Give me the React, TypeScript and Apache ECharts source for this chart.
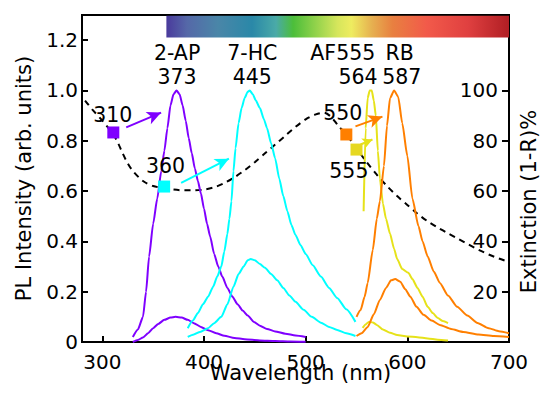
import React, { useEffect, useRef } from "react";
import * as echarts from "echarts";

// ---- data (wavelength nm, PL intensity arb. units) ----
const apTall: [number, number][] = [
  [330, 0.02], [335, 0.05], [340, 0.1], [343, 0.2], [346, 0.34], [350, 0.47], [354, 0.57], [358, 0.68],
  [361, 0.76], [364, 0.85], [367, 0.94], [370, 0.985], [373, 1.0], [376, 0.985], [379, 0.94], [382, 0.88],
  [385, 0.81], [388, 0.75], [391, 0.69], [394, 0.64], [397, 0.59], [400, 0.53], [403, 0.47], [406, 0.42],
  [410, 0.35], [414, 0.3], [418, 0.26], [423, 0.215], [428, 0.18], [433, 0.15], [438, 0.125], [443, 0.105],
  [449, 0.08], [455, 0.065], [462, 0.052], [470, 0.042], [480, 0.033], [490, 0.026], [500, 0.02],
];
const apSmall: [number, number][] = [
  [330, 0.0], [335, 0.008], [340, 0.018], [345, 0.035], [350, 0.055], [355, 0.072], [361, 0.088], [367, 0.097],
  [372, 0.1], [378, 0.097], [384, 0.088], [390, 0.075], [397, 0.06], [404, 0.047], [412, 0.035], [420, 0.025],
  [430, 0.016], [440, 0.011], [455, 0.006], [470, 0.004], [485, 0.002], [500, 0.001],
];
const hcTall: [number, number][] = [
  [384, 0.055], [389, 0.085], [394, 0.115], [399, 0.15], [404, 0.18], [409, 0.22], [413, 0.26], [417, 0.3],
  [420, 0.36], [423, 0.43], [425, 0.49], [427, 0.56], [429, 0.68], [431, 0.77], [434, 0.87], [437, 0.93],
  [440, 0.97], [443, 0.995], [445, 1.0], [448, 0.985], [451, 0.96], [455, 0.93], [459, 0.885], [462, 0.85],
  [466, 0.79], [470, 0.73], [474, 0.65], [478, 0.58], [482, 0.52], [486, 0.465], [490, 0.425], [495, 0.385],
  [500, 0.35], [507, 0.305], [515, 0.26], [523, 0.215], [531, 0.175], [540, 0.13], [549, 0.08],
];
const hcSmall: [number, number][] = [
  [384, 0.02], [390, 0.03], [396, 0.04], [404, 0.055], [410, 0.075], [417, 0.1], [423, 0.15], [429, 0.22],
  [434, 0.27], [439, 0.3], [443, 0.325], [446, 0.33], [450, 0.325], [455, 0.31], [460, 0.295], [466, 0.27],
  [472, 0.245], [478, 0.215], [484, 0.185], [490, 0.16], [498, 0.128], [506, 0.1], [515, 0.077], [523, 0.06],
  [531, 0.048], [540, 0.035], [549, 0.024],
];
const afTall: [number, number][] = [
  [557, 0.52], [559, 0.85], [561, 0.97], [563, 1.0], [565, 1.0], [567, 0.96], [569, 0.9],
  [571, 0.76], [573, 0.65], [576, 0.55], [579, 0.49], [583, 0.43], [587, 0.37], [590, 0.33], [595, 0.29],
  [601, 0.275], [605, 0.25], [610, 0.215], [615, 0.18], [620, 0.14], [625, 0.115], [630, 0.095], [635, 0.083],
  [640, 0.075],
];
const afSmall: [number, number][] = [
  [556, 0.056], [559, 0.07], [562, 0.08], [566, 0.078], [570, 0.068], [576, 0.05], [583, 0.037], [590, 0.028],
  [600, 0.022], [610, 0.019], [620, 0.014], [630, 0.009], [640, 0.006],
];
const rbTall: [number, number][] = [
  [550, 0.1], [554, 0.127], [558, 0.18], [561, 0.235], [566, 0.366], [570, 0.49], [573, 0.56], [577, 0.7],
  [580, 0.86], [583, 0.97], [587, 1.0], [591, 0.975], [595, 0.87], [600, 0.74], [605, 0.57], [611, 0.46],
  [615, 0.4], [620, 0.34], [626, 0.28], [632, 0.235], [640, 0.185], [649, 0.14], [659, 0.105], [669, 0.076],
  [680, 0.055], [690, 0.043], [700, 0.035],
];
const rbSmall: [number, number][] = [
  [550, 0.024], [555, 0.035], [561, 0.06], [567, 0.11], [573, 0.167], [579, 0.215], [584, 0.245], [588, 0.25],
  [593, 0.24], [598, 0.21], [603, 0.18], [609, 0.14], [616, 0.108], [624, 0.085], [632, 0.068], [643, 0.052],
  [655, 0.04], [670, 0.03], [685, 0.024], [700, 0.02],
];
// extinction (1-R) %
const extinction: [number, number][] = [
  [283, 96], [290, 92.5], [300, 88], [310, 83], [315, 79.5], [320, 75], [325, 71], [330, 68], [340, 64],
  [350, 62], [360, 61.2], [370, 60.6], [380, 60.3], [390, 60.3], [400, 60.6], [410, 61.5], [420, 63.2],
  [430, 65.5], [440, 68.3], [450, 71.5], [460, 75], [470, 78.5], [480, 82], [490, 85.5], [500, 88.5],
  [510, 90.5], [518, 91.2], [525, 89.5], [532, 86], [540, 82.5], [550, 77], [560, 71.5], [570, 66.5],
  [580, 62], [590, 58], [600, 54.5], [610, 51], [620, 48], [630, 45.5], [640, 43.2], [650, 41], [660, 38.8],
  [670, 36.7], [680, 34.8], [690, 33.2], [700, 31.8],
];
const excitationWl = [310.8, 360.8, 540, 550];
const excitationExt = [83.3, 61.8, 82.5, 76.5];
const excitationText = ["310", "360", "550", "555"];
const excitationTextAt: [number, number][] = [[310.8, 0.9], [362.7, 0.697], [537, 0.908], [543, 0.677]];
const dyeNames = ["2-AP", "7-HC", "AF555", "RB"];
const dyeNameAt: [number, number][] = [[374, 1.145], [448, 1.145], [537, 1.145], [593, 1.145]];
const dyePeaks = ["373", "445", "564", "587"];
const dyePeakAt: [number, number][] = [[374, 1.05], [448, 1.05], [552, 1.05], [595, 1.05]];
const arrowFrom: [number, number][] = [[323.5, 0.853], [377.5, 0.633], [554, 0.785], [549, 0.857]];
const arrowTo: [number, number][] = [[357.8, 0.912], [424.5, 0.729], [565.7, 0.805], [575.5, 0.896]];
const xTicks = [300, 400, 500, 600, 700];
const yLeftTicks = [0, 0.2, 0.4, 0.6, 0.8, 1.0, 1.2];
const yRightTicks = [20, 40, 60, 80, 100];
const spectrumBar: [number, number][] = [[363, 1.211], [700, 1.297]];

// dye colours: 2-AP, 7-HC, AF555, RB
const COLORS = ["#7f00ff", "#00ffff", "#e6e21a", "#ff7f00"];
// square colours for the excitation points (310, 360, 550, 555)
const SQUARE_COLORS = ["#7f00ff", "#00ffff", "#ff7f00", "#e6d820"];
const FONT = "DejaVu Sans, Liberation Sans, Arial, sans-serif";

export default function App() {
  const ref = useRef<HTMLDivElement>(null);
  useEffect(() => {
    if (!ref.current) return;
    const chart = echarts.init(ref.current, undefined, { renderer: "svg" });
    const tall = [apTall, hcTall, afTall, rbTall];
    const small = [apSmall, hcSmall, afSmall, rbSmall];
    const series: any[] = [];
    series.push({
      type: "scatter",
      name: "bar",
      symbolSize: 0,
      data: [],
      silent: true,
      markArea: {
        silent: true,
        itemStyle: {
          color: new echarts.graphic.LinearGradient(0, 0, 1, 0, [
            { offset: 0, color: "#4a3a9c" },
            { offset: 0.06, color: "#5568a8" },
            { offset: 0.15, color: "#4a86a8" },
            { offset: 0.25, color: "#2a88a8" },
            { offset: 0.32, color: "#4aaaa8" },
            { offset: 0.37, color: "#4cbe3a" },
            { offset: 0.5, color: "#d6e65c" },
            { offset: 0.54, color: "#eeec60" },
            { offset: 0.6, color: "#e6b050" },
            { offset: 0.66, color: "#e88040" },
            { offset: 0.76, color: "#f25a4a" },
            { offset: 0.88, color: "#e04040" },
            { offset: 1, color: "#b01e24" },
          ]),
          opacity: 1,
        },
        data: [[{ coord: spectrumBar[0] }, { coord: spectrumBar[1] }]],
      },
    });
    series.push({
      type: "line",
      yAxisIndex: 1,
      data: extinction,
      symbol: "none",
      smooth: 0.3,
      lineStyle: { color: "#000", width: 2, type: [6, 5] },
      silent: true,
    });
    for (let i = 0; i < 4; i++) {
      series.push({
        type: "line",
        data: small[i],
        symbol: "none",
        smooth: 0.2,
        smoothMonotone: "x",
        lineStyle: { color: COLORS[i], width: 2 },
        silent: true,
      });
      series.push({
        type: "line",
        data: tall[i],
        symbol: "none",
        smooth: 0.2,
        smoothMonotone: "x",
        lineStyle: { color: COLORS[i], width: 2 },
        silent: true,
        markLine: {
          silent: true,
          symbol: ["none", "arrow"],
          symbolSize: i === 2 ? [8, 10] : [10, 14],
          label: { show: false },
          lineStyle: { color: COLORS[i], width: 2, type: "solid" },
          data: [[{ coord: arrowFrom[i] }, { coord: arrowTo[i] }]],
        },
      });
    }
    series.push({
      type: "scatter",
      yAxisIndex: 1,
      symbol: "rect",
      symbolSize: 12,
      silent: true,
      z: 5,
      itemStyle: { opacity: 1 },
      data: excitationWl.map((w, i) => ({
        value: [w, excitationExt[i]],
        itemStyle: { color: SQUARE_COLORS[i], opacity: 1 },
      })),
    });
    const textItems: any[] = [];
    excitationText.forEach((t, i) => textItems.push([excitationTextAt[i][0], excitationTextAt[i][1], t]));
    dyeNames.forEach((t, i) => textItems.push([dyeNameAt[i][0], dyeNameAt[i][1], t]));
    dyePeaks.forEach((t, i) => textItems.push([dyePeakAt[i][0], dyePeakAt[i][1], t]));
    series.push({
      type: "scatter",
      symbolSize: 1,
      itemStyle: { color: "rgba(0,0,0,0)", opacity: 1 },
      silent: true,
      z: 6,
      data: textItems,
      label: {
        show: true,
        position: [0, 0],
        align: "center",
        verticalAlign: "middle",
        formatter: (p: any) => p.data[2],
        color: "#000",
        opacity: 1,
        textBorderWidth: 0,
        fontFamily: FONT,
        fontSize: 20.5,
      },
    });

    chart.setOption({
      animation: false,
      backgroundColor: "#fff",
      grid: {
        left: 82, right: 31, top: 15, bottom: 51,
        show: true, borderColor: "#000", borderWidth: 2,
        outerBoundsMode: "none",
      },
      xAxis: {
        type: "value",
        min: 280,
        max: 700,
        name: "Wavelength (nm)",
        nameLocation: "middle",
        nameGap: 20,
        nameMoveOverlap: false,
        nameTextStyle: { fontFamily: FONT, fontSize: 21, color: "#000", padding: [0, 0, 0, 10] },
        axisLine: { lineStyle: { color: "#000", width: 2 } },
        axisTick: { inside: true, length: 6, lineStyle: { width: 2, color: "#000" }, customValues: xTicks },
        axisLabel: { fontFamily: FONT, fontSize: 20, color: "#000", margin: 10, customValues: xTicks },
        splitLine: { show: false },
      },
      yAxis: [
        {
          type: "value",
          min: 0,
          max: 1.3,
          name: "PL Intensity (arb. units)",
          nameLocation: "middle",
          nameRotate: 90,
          nameGap: 48,
          nameMoveOverlap: false,
          nameTextStyle: { fontFamily: FONT, fontSize: 21, color: "#000" },
          axisLine: { lineStyle: { color: "#000", width: 2 } },
          axisTick: { inside: true, length: 6, lineStyle: { width: 2, color: "#000" }, customValues: yLeftTicks },
          axisLabel: {
            fontFamily: FONT, fontSize: 20, color: "#000", margin: 4,
            customValues: yLeftTicks,
            formatter: (v: number) => (v === 0 ? "0" : v.toFixed(1)),
          },
          splitLine: { show: false },
        },
        {
          type: "value",
          min: 0,
          max: 130,
          position: "right",
          name: "Extinction (1-R)%",
          nameLocation: "middle",
          nameRotate: 90,
          nameGap: 9,
          nameMoveOverlap: false,
          nameTextStyle: { fontFamily: FONT, fontSize: 21, color: "#000", padding: [0, 46, 0, 0] },
          axisLine: { lineStyle: { color: "#000", width: 2 } },
          axisTick: { inside: true, length: 7, lineStyle: { width: 2, color: "#000" }, customValues: yRightTicks },
          axisLabel: {
            inside: true, fontFamily: FONT, fontSize: 20, color: "#000", margin: 11,
            customValues: yRightTicks,
          },
          splitLine: { show: false },
        },
      ],
      series,
    });
    return () => chart.dispose();
  }, []);
  return (
    <div
      ref={ref}
      style={{ position: "fixed", left: 0, top: 0, width: 540, height: 393, background: "#fff" }}
    />
  );
}
